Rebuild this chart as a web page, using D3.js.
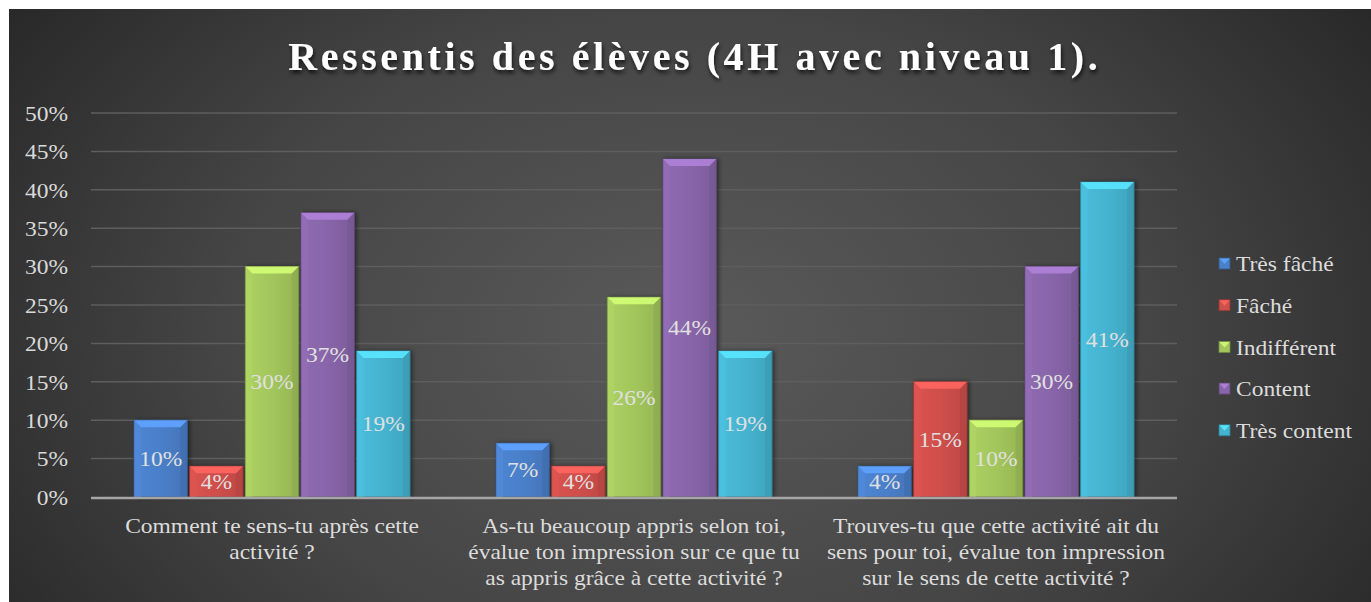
<!DOCTYPE html>
<html>
<head>
<meta charset="utf-8">
<script src="https://cdn.jsdelivr.net/npm/d3@7"></script>
<style>
html,body{margin:0;padding:0;background:#fff;}
svg{display:block;}
text{font-family:"Liberation Serif","Times New Roman",serif;}
</style>
</head>
<body>
<svg id="chart" width="1371" height="602"></svg>
<script>
const title = "Ressentis des élèves (4H avec niveau 1).";
const categories = [
  ["Comment te sens-tu après cette", "activité ?"],
  ["As-tu beaucoup appris selon toi,", "évalue ton impression sur ce que tu", "as appris grâce à cette activité ?"],
  ["Trouves-tu que cette activité ait du", "sens pour toi, évalue ton impression", "sur le sens de cette activité ?"]
];
const seriesNames = ["Très fâché", "Fâché", "Indifférent", "Content", "Très content"];
const tresFache   = [10, 7, 4];
const fache       = [4, 4, 15];
const indifferent = [30, 26, 10];
const content     = [37, 44, 30];
const tresContent = [19, 19, 41];
const seriesValues = [tresFache, fache, indifferent, content, tresContent];
const yTicks = [0, 5, 10, 15, 20, 25, 30, 35, 40, 45, 50];
const colors = ["#4a7fc9", "#cf4f4b", "#a3c65c", "#8865a9", "#45b3d0"];

const FS = 21, SX = 1.12;
const svg = d3.select("#chart");
const defs = svg.append("defs");

// background
const bg = defs.append("radialGradient").attr("id","bg")
  .attr("cx","0.5").attr("cy","0.55").attr("r","0.62")
  .attr("gradientTransform","translate(0.5,0.55) scale(1,1.6) translate(-0.5,-0.55)");
bg.append("stop").attr("offset","0").attr("stop-color","#5a5a5a");
bg.append("stop").attr("offset","0.55").attr("stop-color","#454545");
bg.append("stop").attr("offset","1").attr("stop-color","#272727");
svg.append("rect").attr("x",9).attr("y",9).attr("width",1362).attr("height",593).attr("fill","url(#bg)");

// filters
const sh = defs.append("filter").attr("id","tshadow").attr("x","-10%").attr("y","-30%").attr("width","120%").attr("height","160%");
sh.append("feDropShadow").attr("dx",1).attr("dy",3).attr("stdDeviation",2).attr("flood-color","#000").attr("flood-opacity",0.75);
const bsh = defs.append("filter").attr("id","bshadow").attr("x","-20%").attr("y","-10%").attr("width","140%").attr("height","120%");
bsh.append("feDropShadow").attr("dx",2).attr("dy",0).attr("stdDeviation",2).attr("flood-color","#000").attr("flood-opacity",0.45);

colors.forEach((c,i)=>{
  const g = defs.append("linearGradient").attr("id","g"+i).attr("x1","0").attr("x2","1").attr("y1","0").attr("y2","0");
  g.append("stop").attr("offset","0").attr("stop-color",d3.color(c).brighter(0.15));
  g.append("stop").attr("offset","0.5").attr("stop-color",c);
  g.append("stop").attr("offset","1").attr("stop-color",d3.color(c).darker(0.25));
});

const margin = {left:91, right:1177, top:113, bottom:497};
const x0 = d3.scaleBand().domain(d3.range(categories.length)).range([margin.left, margin.right]).paddingInner(0).paddingOuter(0);
const x1 = d3.scaleBand().domain(d3.range(seriesNames.length)).range([43, x0.bandwidth()-43]).paddingInner(0.04);
const y = d3.scaleLinear().domain([0,50]).range([margin.bottom, margin.top]);

// stretched-text helper
function stext(parent, xx, yy, str, anchor, fill){
  return parent.append("g").attr("transform",`translate(${xx},${yy}) scale(${SX},1)`)
    .append("text").attr("text-anchor",anchor).attr("font-size",FS).attr("fill",fill).attr("dy","0.35em").text(str);
}

// gridlines
svg.append("g").selectAll("line").data(yTicks.filter(t=>t>0)).join("line")
  .attr("x1",margin.left).attr("x2",margin.right)
  .attr("y1",d=>y(d)).attr("y2",d=>y(d))
  .attr("stroke","#5e5e5e").attr("stroke-width",1.5);

// y axis labels
const yAxis = d3.axisLeft(y).tickValues(yTicks).tickFormat(d=>d+"%").tickSize(0).tickPadding(0);
const ya = svg.append("g").attr("transform","translate(68,0)").call(yAxis);
ya.select(".domain").remove();
ya.selectAll("text").attr("font-size",FS).attr("fill","#d9d9d9").attr("dy","0.35em")
  .attr("x",0).attr("transform",`scale(${SX},1)`);

// bars
const groups = svg.append("g").selectAll("g").data(categories).join("g")
  .attr("transform",(d,i)=>`translate(${x0(i)},0)`);
const bevel = 7;
groups.each(function(cat, ci){
  const g = d3.select(this);
  seriesValues.forEach((vals, si)=>{
    const v = vals[ci];
    const bx = x1(si), bw = x1.bandwidth(), by = y(v), bh = y(0)-y(v);
    const bg2 = g.append("g");
    bg2.append("rect").attr("x",bx).attr("y",by).attr("width",bw).attr("height",bh)
      .attr("fill","url(#g"+si+")").attr("stroke",d3.color(colors[si]).darker(1.2)).attr("stroke-width",1)
      .attr("filter","url(#bshadow)");
    const bv = Math.min(bevel, bh/2);
    bg2.append("path").attr("d",`M${bx},${by} L${bx+bw},${by} L${bx+bw-bv},${by+bv} L${bx+bv},${by+bv} Z`)
      .attr("fill",d3.color(colors[si]).brighter(0.7)).attr("opacity",0.9);
    bg2.append("path").attr("d",`M${bx},${by} L${bx+bv},${by+bv} L${bx+bv},${by+bh} L${bx},${by+bh} Z`)
      .attr("fill",d3.color(colors[si]).brighter(0.25)).attr("opacity",0.5);
    bg2.append("path").attr("d",`M${bx+bw},${by} L${bx+bw-bv},${by+bv} L${bx+bw-bv},${by+bh} L${bx+bw},${by+bh} Z`)
      .attr("fill",d3.color(colors[si]).darker(0.5)).attr("opacity",0.5);
    stext(bg2, bx+bw/2, by+bh/2, v+"%", "middle", "#e0e0e0");
  });
});

// x axis line
svg.append("line").attr("x1",margin.left).attr("x2",margin.right).attr("y1",y(0)+1).attr("y2",y(0)+1)
  .attr("stroke","#a6a6a6").attr("stroke-width",2.5);

// category labels
groups.each(function(cat){
  const g = d3.select(this);
  cat.forEach((line,i)=>{
    stext(g, x0.bandwidth()/2, 526 + i*26, line, "middle", "#dcdcdc");
  });
});

// title
const t = svg.append("text").attr("x",686).attr("y",70).attr("text-anchor","middle")
  .attr("font-size",40).attr("font-weight","bold").attr("fill","#ffffff")
  .attr("filter","url(#tshadow)").text(title);
const w = t.node().getComputedTextLength();
const ls = (813 - w) / (title.length);
t.attr("letter-spacing", ls).attr("x", 693 + ls/2);

// legend
const leg = svg.append("g").selectAll("g").data(seriesNames).join("g")
  .attr("transform",(d,i)=>`translate(1219,${264 + i*41.7})`);
leg.append("rect").attr("x",0).attr("y",-6).attr("width",11).attr("height",11)
  .attr("fill",(d,i)=>colors[i]).attr("stroke",(d,i)=>d3.color(colors[i]).darker(1)).attr("stroke-width",0.8);
leg.append("path").attr("d","M0.5,-5.5 L10.5,-5.5 L5.5,0 Z").attr("fill",(d,i)=>d3.color(colors[i]).brighter(0.8)).attr("opacity",0.8);
leg.each(function(d){ stext(d3.select(this), 17, 0, d, "start", "#dcdcdc"); });
</script>
</body>
</html>
